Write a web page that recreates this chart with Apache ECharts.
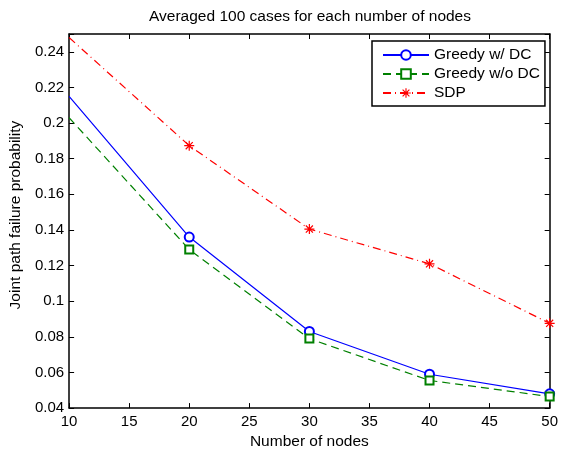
<!DOCTYPE html>
<html>
<head>
<meta charset="utf-8">
<script src="https://cdn.jsdelivr.net/npm/echarts@6/dist/echarts.min.js"></script>
<style>
  html, body { margin: 0; padding: 0; background: #fff; }
  #chart { width: 561px; height: 455px; }
</style>
</head>
<body>
<div id="chart"></div>
<script>
// values
const nodes = [10, 20, 30, 40, 50]
const greedyDC = [0.215, 0.136, 0.083, 0.059, 0.048]
const greedyNoDC = [0.203, 0.129, 0.079, 0.0555, 0.0465]
const sdp = [0.248, 0.1873, 0.1405, 0.121, 0.0876]
const seriesNames = ['Greedy w/ DC', 'Greedy w/o DC', 'SDP']

const FONT = "'Liberation Sans', Arial, Helvetica, sans-serif"
// matlab-like '*' marker
const STAR = 'path://M0 8.8L20 8.8L20 11.2L0 11.2Z M8.8 0L11.2 0L11.2 20L8.8 20Z M2.08 3.78L3.78 2.08L17.92 16.22L16.22 17.92Z M16.22 2.08L17.92 3.78L3.78 17.92L2.08 16.22Z'

// first point has no marker in the original
const toData = ys => nodes.map((x, i) => i === 0 ? { value: [x, ys[i]], symbol: 'none' } : [x, ys[i]])

const chart = echarts.init(document.getElementById('chart'))

const boxLine = { show: true, lineStyle: { color: '#000', width: 1.5 } }
const tick = { show: true, inside: true, length: 5, lineStyle: { color: '#000', width: 1 } }
const labelStyle = { color: '#000', fontSize: 15, fontFamily: FONT }

const xBase = { type: 'value', min: 10, max: 50, interval: 5, axisLine: boxLine, axisTick: tick, splitLine: { show: false } }
const yBase = { type: 'value', min: 0.04, max: 0.25, interval: 0.02, axisLine: boxLine, axisTick: tick, splitLine: { show: false } }

chart.setOption({
  animation: false,
  title: {
    text: 'Averaged 100 cases for each number of nodes',
    left: 310, top: 9, padding: 0, textAlign: 'center',
    textStyle: { color: '#000', fontSize: 15.5, fontWeight: 'normal', fontFamily: FONT }
  },
  grid: { left: 68, right: 9, top: 34, bottom: 39 },
  legend: {
    orient: 'vertical',
    left: 372, top: 41,
    padding: [6, 5, 5, 10],
    itemGap: 3, itemWidth: 46, itemHeight: 12,
    borderColor: '#000', borderWidth: 1.5, borderRadius: 0,
    backgroundColor: '#fff',
    textStyle: { color: '#000', fontSize: 15.5, fontFamily: FONT },
    data: seriesNames
  },
  xAxis: [
    Object.assign({}, xBase, {
      position: 'bottom',
      axisLabel: Object.assign({ margin: 6 }, labelStyle),
      name: 'Number of nodes', nameLocation: 'middle', nameGap: 21,
      nameTextStyle: { color: '#000', fontSize: 15.5, fontFamily: FONT }
    }),
    Object.assign({}, xBase, { position: 'top', axisLabel: { show: false } })
  ],
  yAxis: [
    Object.assign({}, yBase, {
      position: 'left',
      axisLabel: Object.assign({
        margin: 5,
        formatter: v => v > 0.245 ? '' : String(+v.toFixed(2))
      }, labelStyle),
      name: 'Joint path failure probability', nameLocation: 'middle', nameGap: 42,
      nameTextStyle: { color: '#000', fontSize: 15.5, fontFamily: FONT, padding: [0, 0, 0, 12] }
    }),
    Object.assign({}, yBase, { position: 'right', axisLabel: { show: false } })
  ],
  series: [
    {
      name: seriesNames[0], type: 'line', data: toData(greedyDC),
      symbol: 'emptyCircle', symbolSize: 9,
      lineStyle: { color: '#0000ff', width: 1.2, type: 'solid' },
      itemStyle: { color: '#0000ff', borderWidth: 1.2 }
    },
    {
      name: seriesNames[1], type: 'line', data: toData(greedyNoDC),
      symbol: 'emptyRect', symbolSize: 8,
      lineStyle: { color: '#008000', width: 1.2, type: [8, 5] },
      itemStyle: { color: '#008000', borderWidth: 1.2 }
    },
    {
      name: seriesNames[2], type: 'line', data: toData(sdp),
      symbol: STAR, symbolSize: 10,
      lineStyle: { color: '#ff0000', width: 1.2, type: [8, 4, 1, 4] },
      itemStyle: { color: '#ff0000' }
    }
  ]
})
</script>
</body>
</html>
